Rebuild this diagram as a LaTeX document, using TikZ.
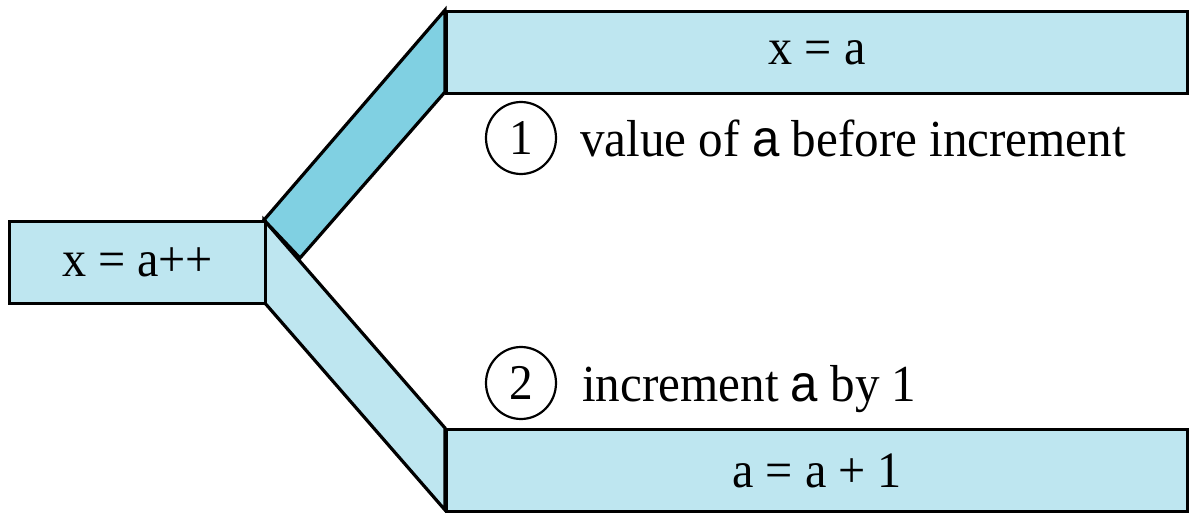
\documentclass[tikz,border=0pt]{standalone}
\usepackage{fontspec}
\usetikzlibrary{shapes.geometric}
\setmainfont{Liberation Serif}
\newfontfamily\sansa{Liberation Sans}
\definecolor{lightc}{HTML}{BEE6F0}
\definecolor{darkc}{HTML}{80D0E2}
\newcommand{\sqz}[1]{\scalebox{0.945}[1]{#1}}
\begin{document}
\begin{tikzpicture}[x=1pt,y=-1pt,
  box/.style={draw=black,line width=3.2pt,fill=lightc,inner sep=0pt,anchor=north west},
  band/.style={draw=black,line width=3.2pt,line join=miter},
  num/.style={draw=black,line width=2.2pt,ellipse,minimum width=70pt,minimum height=72pt,inner sep=0pt,font=\fontsize{50}{54}\selectfont},
  lab/.style={anchor=base west,inner sep=0pt,font=\fontsize{52}{56}\selectfont},
  btxt/.style={font=\fontsize{51}{55}\selectfont}]
\useasboundingbox (0,0) rectangle (1194,513);
% branches
\draw[band,fill=lightc] (264,220) -- (445,428) -- (445,510) -- (264,302) -- cycle;
\draw[band,fill=darkc] (264,220) -- (445,10) -- (445,92) -- (300,258) -- cycle;
% boxes
\node[box,minimum width=256pt,minimum height=82pt] (src) at (8,220) {};
\node[btxt] at (src.center) {\sqz{x = a++}};
\node[box,minimum width=741pt,minimum height=82pt] (top) at (445,10) {};
\node[btxt] at (top.center) {\sqz{x = a}};
\node[box,minimum width=741pt,minimum height=82pt] (bot) at (445,428) {};
\node[btxt] at (bot.center) {\sqz{a = a + 1}};
% labels
\node[num] (n1) at (521,138) {\sqz{1}};
\node[lab] (t1) at (580,157) {\sqz{value of {\sansa a} before increment}};
\node[num] (n2) at (521,383) {\sqz{2}};
\node[lab] (t2) at (582,401) {\sqz{increment {\sansa a} by 1}};
\end{tikzpicture}
\end{document}
